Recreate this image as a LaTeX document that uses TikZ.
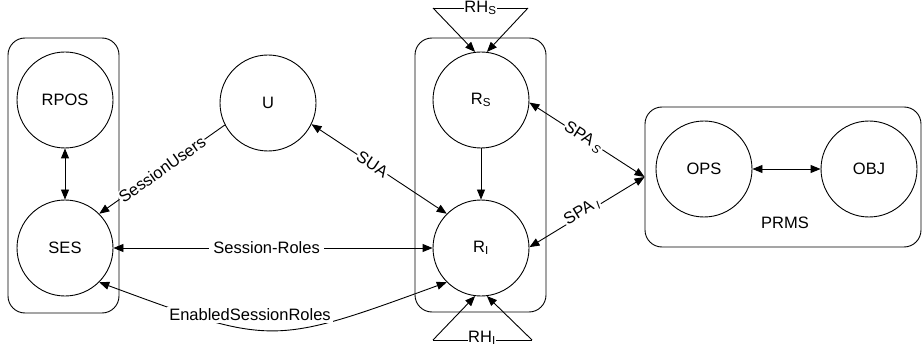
\documentclass[tikz,border=0pt]{standalone}
\usepackage{fontspec}
\setmainfont{Liberation Sans}
\usetikzlibrary{arrows.meta}
\begin{document}
\begin{tikzpicture}[x=1pt,y=-1pt,
  every node/.style={font=\fontsize{16.5}{19}\selectfont},
  ent/.style={draw,circle,minimum size=96pt,inner sep=0pt,line width=0.9pt},
  grp/.style={draw,rounded corners=17pt,line width=0.9pt,inner sep=0pt},
  conn/.style={line width=0.9pt,-{Triangle[length=10pt,width=8pt]}},
  conn2/.style={line width=0.9pt,{Triangle[length=10pt,width=8pt]}-{Triangle[length=10pt,width=8pt]}},
  lbl/.style={fill=white,inner sep=1.5pt}]
\useasboundingbox (0,0) rectangle (923,358);
% groups
\node[grp,minimum width=111pt,minimum height=275pt] (gl) at (63.5,175.5) {};
\node[grp,minimum width=131pt,minimum height=274pt] (gm) at (480.5,175) {};
\node[grp,minimum width=276pt,minimum height=140pt] (prms) at (783,177) {};
% entities
\node[ent] (rpos) at (65,100) {RPOS};
\node[ent] (ses) at (65,248) {SES};
\node[ent] (u) at (268,103) {U};
\node[ent] (rs) at (481,100) {R\textsubscript{S}};
\node[ent] (ri) at (481,248) {R\textsubscript{I}};
\node[ent] (ops) at (704,169) {OPS};
\node[ent] (obj) at (869,169) {OBJ};
\node (prmsl) at (785,223) {PRMS};
% connectors inside groups
\draw[conn2] (rpos) -- (ses);
\draw[conn] (rs) -- (ri);
\draw[conn2] (ops) -- (obj);
% RH_S
\coordinate (hs1) at (433,8);
\coordinate (hs2) at (528,8);
\draw[line width=0.9pt] (hs1) -- (hs2);
\node[lbl,inner sep=0.5pt] (hsl) at (480.5,8) {RH\textsubscript{S}};
\draw[conn] (hs1) -- (rs.97);
\draw[conn] (hs2) -- (rs.83);
% RH_I
\coordinate (hi1) at (433,340);
\coordinate (hi2) at (532,340);
\draw[line width=0.9pt] (hi1) -- (hi2);
\node[lbl,inner sep=0.5pt] (hil) at (482,338) {RH\textsubscript{I}};
\draw[conn] (hi1) -- (ri.-97);
\draw[conn] (hi2) -- (ri.-83);
% SPA
\draw[conn2] (rs.-3) -- node[lbl,sloped,pos=0.47,inner sep=1pt] {SPA\,\textsubscript{\itshape S}} (prms.west);
\draw[conn2] (ri.1) -- node[lbl,sloped,pos=0.47,inner sep=1pt,yshift=3pt] {SPA\,\textsubscript{\itshape I}} (prms.west);
% SUA
\draw[conn2] (u.-26) -- node[lbl,sloped,pos=0.45,inner sep=1pt] {SUA} (ri.135);
% SessionUsers
\draw[conn] (u.207) -- node[lbl,sloped,pos=0.5,inner sep=1pt] {SessionUsers} (ses.45);
% Session-Roles
\draw[conn2] (ses) -- node[lbl,pos=0.48,inner sep=4pt] {Session-Roles} (ri);
% EnabledSessionRoles
\draw[conn2] (ses.-45) .. controls (272,346) .. (ri.225);
\node[lbl,inner sep=2pt] (esr) at (250,315) {EnabledSessionRoles};
\end{tikzpicture}
\end{document}
